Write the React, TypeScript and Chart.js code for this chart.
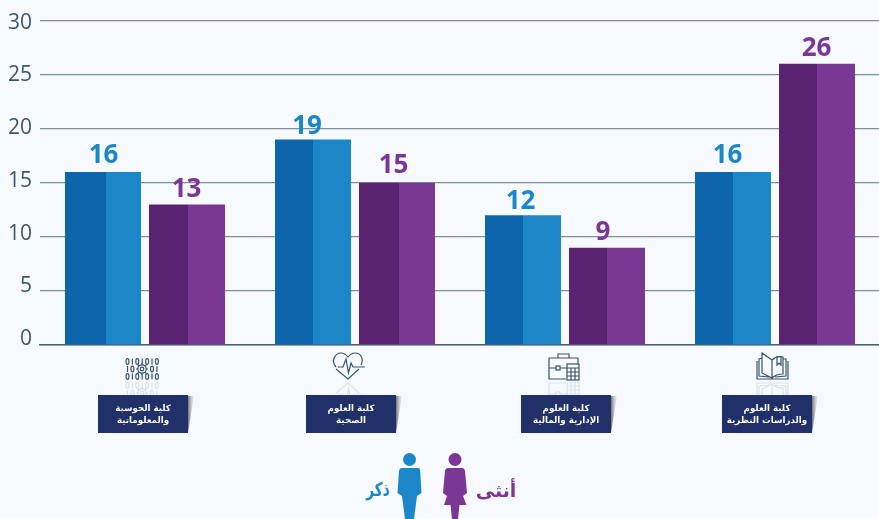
import React, { useEffect, useRef } from "react";
import { Chart, registerables } from "chart.js";

Chart.register(...registerables);

const categories = [
  ["كلية الحوسبة", "والمعلوماتية"],
  ["كلية العلوم", "الصحية"],
  ["كلية العلوم", "الإدارية والمالية"],
  ["كلية العلوم", "والدراسات النظرية"],
];
const maleValues = [16, 19, 12, 16];
const femaleValues = [13, 15, 9, 26];
const yTicks = [0, 5, 10, 15, 20, 25, 30];
const maleLabel = "ذكر";
const femaleLabel = "أنثى";

const BLUE_D = "#0d65ac";
const BLUE_L = "#1b87c9";
const PURPLE_D = "#5a2372";
const PURPLE_L = "#7a3793";
const NAVY = "#22306a";
const ICON = "#3a5367";
const BG = "#f6faff";
const AR_FONT = '"DejaVu Sans", sans-serif';
const NUM_FONT = '"Open Sans", sans-serif';

const boxLefts = [98, 306, 521, 722];
const iconLefts = [126, 333, 548, 756];
const splitShift = [[3, 1], [0, 2], [0, 0], [0, 0]];
// [dx, gap above bar] for each value label, by series then category
const labelNudge = [
  [[0.5, 8.5], [-6, 6], [-2.5, 6], [-5.5, 8.5]],
  [[-0.5, 7], [-3.5, 10], [-4, 7.5], [-0.5, 7.5]],
];

function twoTone(ctx: any, dark: string, light: string, dsIndex: number) {
  const chart = ctx.chart;
  const xs = chart.scales.x;
  if (!xs || ctx.dataIndex === undefined) return light;
  const groupW = xs.getPixelForValue(1) - xs.getPixelForValue(0);
  const chunk = (groupW * 0.8) / 2;
  const c = xs.getPixelForValue(ctx.dataIndex) - chunk + chunk * dsIndex + chunk / 2;
  if (!Number.isFinite(c)) return light;
  const half = 38;
  const left = c - half;
  const g = chart.ctx.createLinearGradient(left, 0, left + half * 2, 0);
  const s = (half + splitShift[ctx.dataIndex][dsIndex]) / (half * 2);
  g.addColorStop(0, dark);
  g.addColorStop(s, dark);
  g.addColorStop(s, light);
  g.addColorStop(1, light);
  return g;
}

function drawBinary(c: CanvasRenderingContext2D, x: number, y: number) {
  const patterns = ["0101010", "10   01", "0101010"];
  patterns.forEach((p, r) => {
    const cy = y + 3.5 + r * 7.5;
    [...p].forEach((ch, i) => {
      if (ch === " ") return;
      const cx = x + 1.5 + i * 4.9;
      if (ch === "0") {
        c.beginPath();
        c.ellipse(cx, cy, 1.5, 2.8, 0, 0, Math.PI * 2);
        c.stroke();
      } else {
        c.beginPath();
        c.moveTo(cx, cy - 3);
        c.lineTo(cx, cy + 3);
        c.stroke();
      }
    });
  });
  const gx = x + 16;
  const gy = y + 11;
  c.beginPath();
  c.arc(gx, gy, 4.2, 0, Math.PI * 2);
  c.stroke();
  c.beginPath();
  c.arc(gx, gy, 1.8, 0, Math.PI * 2);
  c.stroke();
  for (let a = 0; a < 8; a++) {
    const t = (a * Math.PI) / 4;
    c.beginPath();
    c.moveTo(gx + Math.cos(t) * 4.2, gy + Math.sin(t) * 4.2);
    c.lineTo(gx + Math.cos(t) * 6, gy + Math.sin(t) * 6);
    c.stroke();
  }
}

function drawHeart(c: CanvasRenderingContext2D, x: number, y: number) {
  c.beginPath();
  c.moveTo(x + 3, y + 14);
  c.bezierCurveTo(x - 3, y + 7, x + 3, y, x + 8, y);
  c.bezierCurveTo(x + 11, y, x + 13, y + 1.5, x + 15, y + 4);
  c.bezierCurveTo(x + 17, y + 1.5, x + 20, y, x + 22, y);
  c.bezierCurveTo(x + 28, y, x + 31, y + 6, x + 28, y + 12);
  c.moveTo(x + 3, y + 16);
  c.lineTo(x + 15, y + 26);
  c.lineTo(x + 26, y + 16);
  c.stroke();
  c.beginPath();
  c.moveTo(x + 5, y + 14);
  c.lineTo(x + 10, y + 14);
  c.lineTo(x + 13, y + 6);
  c.lineTo(x + 15.5, y + 20);
  c.lineTo(x + 18, y + 10);
  c.lineTo(x + 20, y + 14);
  c.lineTo(x + 32, y + 14);
  c.stroke();
}

function drawBriefcase(c: CanvasRenderingContext2D, x: number, y: number) {
  c.beginPath();
  c.moveTo(x + 18, y + 26);
  c.lineTo(x + 1, y + 26);
  c.lineTo(x + 1, y + 5);
  c.lineTo(x + 30, y + 5);
  c.lineTo(x + 30, y + 11);
  c.moveTo(x + 10, y + 5);
  c.lineTo(x + 10, y + 1);
  c.lineTo(x + 21, y + 1);
  c.lineTo(x + 21, y + 5);
  c.moveTo(x + 1, y + 15);
  c.lineTo(x + 8, y + 15);
  c.moveTo(x + 12, y + 15);
  c.lineTo(x + 19, y + 15);
  c.stroke();
  c.strokeRect(x + 8, y + 13, 4, 4);
  c.strokeRect(x + 19, y + 11, 12, 16);
  c.beginPath();
  for (let i = 1; i < 3; i++) {
    c.moveTo(x + 19 + i * 4, y + 15);
    c.lineTo(x + 19 + i * 4, y + 27);
  }
  for (let i = 0; i < 3; i++) {
    c.moveTo(x + 19, y + 15 + i * 4);
    c.lineTo(x + 31, y + 15 + i * 4);
  }
  c.stroke();
}

function drawBook(c: CanvasRenderingContext2D, x: number, y: number) {
  c.beginPath();
  c.moveTo(x + 16, y + 7);
  c.lineTo(x + 6, y);
  c.lineTo(x + 6, y + 20);
  c.lineTo(x + 16, y + 25);
  c.closePath();
  c.moveTo(x + 16, y + 7);
  c.bezierCurveTo(x + 19, y + 4, x + 23, y + 3, x + 27, y + 4);
  c.lineTo(x + 27, y + 21);
  c.bezierCurveTo(x + 23, y + 21, x + 19, y + 22, x + 16, y + 25);
  c.moveTo(x + 6, y + 5);
  c.lineTo(x + 3, y + 6);
  c.lineTo(x + 3, y + 23);
  c.lineTo(x + 13, y + 24);
  c.moveTo(x + 27, y + 6);
  c.lineTo(x + 30, y + 6);
  c.lineTo(x + 30, y + 23);
  c.lineTo(x + 19, y + 24);
  c.moveTo(x + 1, y + 8);
  c.lineTo(x + 1, y + 26);
  c.lineTo(x + 32, y + 26);
  c.lineTo(x + 32, y + 8);
  c.stroke();
  c.beginPath();
  c.moveTo(x + 21, y + 3);
  c.lineTo(x + 21, y + 12);
  c.lineTo(x + 23, y + 10);
  c.lineTo(x + 25, y + 12);
  c.lineTo(x + 25, y + 3);
  c.stroke();
}

const iconFns = [drawBinary, drawHeart, drawBriefcase, drawBook];
const iconTops = [358, 353, 353, 353];

function drawMale(c: CanvasRenderingContext2D) {
  c.fillStyle = BLUE_L;
  c.beginPath();
  c.arc(409.5, 459.5, 6.5, 0, Math.PI * 2);
  c.fill();
  c.beginPath();
  c.moveTo(402, 468);
  c.lineTo(418, 468);
  c.quadraticCurveTo(420, 468, 420.2, 471);
  c.lineTo(421.5, 493);
  c.lineTo(417, 496);
  c.lineTo(414, 519);
  c.lineTo(405, 519);
  c.lineTo(402, 496);
  c.lineTo(397.5, 493);
  c.lineTo(399, 471);
  c.quadraticCurveTo(399.5, 468, 402, 468);
  c.closePath();
  c.fill();
}

function drawFemale(c: CanvasRenderingContext2D) {
  c.fillStyle = PURPLE_L;
  c.beginPath();
  c.arc(455, 459.5, 6.5, 0, Math.PI * 2);
  c.fill();
  c.beginPath();
  c.moveTo(448, 468);
  c.lineTo(462, 468);
  c.quadraticCurveTo(464.5, 468, 465, 471);
  c.lineTo(467, 493);
  c.lineTo(463, 496);
  c.lineTo(466.5, 505);
  c.lineTo(459.5, 505);
  c.lineTo(458, 519);
  c.lineTo(452, 519);
  c.lineTo(450.5, 505);
  c.lineTo(444, 505);
  c.lineTo(447, 496);
  c.lineTo(443, 493);
  c.lineTo(445, 471);
  c.quadraticCurveTo(445.5, 468, 448, 468);
  c.closePath();
  c.fill();
}

const decorPlugin = {
  id: "decor",
  afterLayout(chart: any) {
    // the reference's category band runs to x = 880, one pixel past the canvas
    const xs = chart.scales.x;
    xs.right = 880;
    xs.width = xs.right - xs.left;
    xs.configure();
  },
  afterDraw(chart: any) {
    const c: CanvasRenderingContext2D = chart.ctx;
    c.save();

    c.textAlign = "center";
    c.textBaseline = "alphabetic";
    c.font = `700 26px ${NUM_FONT}`;
    chart.data.datasets.forEach((ds: any, di: number) => {
      c.fillStyle = di === 0 ? BLUE_L : PURPLE_L;
      chart.getDatasetMeta(di).data.forEach((bar: any, i: number) => {
        const [dx, gap] = labelNudge[di][i];
        c.fillText(String(ds.data[i]), bar.x + dx, bar.y - gap);
      });
    });

    categories.forEach((lines, i) => {
      const bx = boxLefts[i];
      const by = 395;
      const bw = 90;
      const bh = 38;
      const sh = c.createLinearGradient(bx + bw, 0, bx + bw + 6, 0);
      sh.addColorStop(0, "rgba(90,90,90,0.85)");
      sh.addColorStop(1, "rgba(200,200,200,0.2)");
      c.fillStyle = sh;
      c.beginPath();
      c.moveTo(bx + bw, by + 1);
      c.lineTo(bx + bw + 6, by + 1);
      c.lineTo(bx + bw, by + bh);
      c.closePath();
      c.fill();
      c.fillStyle = NAVY;
      c.fillRect(bx, by, bw, bh);
      c.fillStyle = "#ffffff";
      c.font = `700 8.7px ${AR_FONT}`;
      c.direction = "rtl";
      c.textAlign = "center";
      lines.forEach((t, k) => c.fillText(t, bx + bw / 2, by + 16 + k * 12));
      c.direction = "ltr";

      const fn = iconFns[i];
      c.lineWidth = 1.2;
      c.strokeStyle = ICON;
      fn(c, iconLefts[i], iconTops[i]);
      c.save();
      c.beginPath();
      c.rect(iconLefts[i] - 2, 382, 40, 13);
      c.clip();
      c.globalAlpha = 0.14;
      c.translate(0, 2 * 381);
      c.scale(1, -1);
      fn(c, iconLefts[i], iconTops[i]);
      c.restore();
    });

    drawMale(c);
    drawFemale(c);
    c.direction = "rtl";
    c.textAlign = "center";
    c.font = `700 19px ${AR_FONT}`;
    c.fillStyle = BLUE_L;
    c.save();
    c.translate(378, 496);
    c.scale(0.72, 1);
    c.fillText(maleLabel, 0, 0);
    c.restore();
    c.fillStyle = PURPLE_L;
    c.fillText(femaleLabel, 496, 497);
    c.restore();
  },
};

export default function App() {
  const ref = useRef<HTMLCanvasElement | null>(null);
  useEffect(() => {
    document.body.style.margin = "0";
    document.body.style.background = BG;
    const fixedTicks = (s: any) => {
      s.ticks = yTicks.map((value) => ({ value }));
    };
    const chart = new Chart(ref.current as HTMLCanvasElement, {
      type: "bar",
      data: {
        labels: categories.map((l) => l.join(" ")),
        datasets: [
          {
            label: maleLabel,
            data: maleValues,
            backgroundColor: (ctx: any) => twoTone(ctx, BLUE_D, BLUE_L, 0),
            borderWidth: 0,
          },
          {
            label: femaleLabel,
            data: femaleValues,
            backgroundColor: (ctx: any) => twoTone(ctx, PURPLE_D, PURPLE_L, 1),
            borderWidth: 0,
          },
        ],
      },
      options: {
        animation: false,
        responsive: false,
        devicePixelRatio: 1,
        layout: { padding: { top: 19, bottom: 174, left: 0, right: 0 } },
        datasets: { bar: { categoryPercentage: 0.8, barPercentage: 76 / 84 } },
        plugins: { legend: { display: false }, tooltip: { enabled: false } },
        scales: {
          x: {
            grid: { display: false },
            ticks: { display: false },
            border: { color: "#4a6072", width: 1.5 },
            afterFit: (s: any) => {
              s.height = 0;
            },
          },
          // value axis: bars and grid lines
          y: {
            min: 0,
            max: 30,
            afterFit: (s: any) => {
              s.width = 0;
            },
            afterBuildTicks: fixedTicks,
            grid: { color: "#7d8e9c", lineWidth: 1.3, drawTicks: false },
            border: { display: false },
            ticks: { display: false },
          },
          // label axis: the reference's tick labels are spaced a little tighter than its grid
          yLabels: {
            position: "left",
            min: -0.57,
            max: 30.19,
            afterFit: (s: any) => {
              s.width = 40;
            },
            afterBuildTicks: fixedTicks,
            grid: { display: false, drawTicks: false },
            border: { display: false },
            ticks: {
              padding: 8,
              color: "#3e566b",
              font: { family: '"Open Sans", sans-serif', size: 21, weight: "400" },
            },
          },
        },
      },
      plugins: [decorPlugin],
    } as any);
    return () => chart.destroy();
  }, []);
  return (
    <canvas
      ref={ref}
      width={879}
      height={519}
      style={{ display: "block", position: "absolute", left: 0, top: 0 }}
    />
  );
}
